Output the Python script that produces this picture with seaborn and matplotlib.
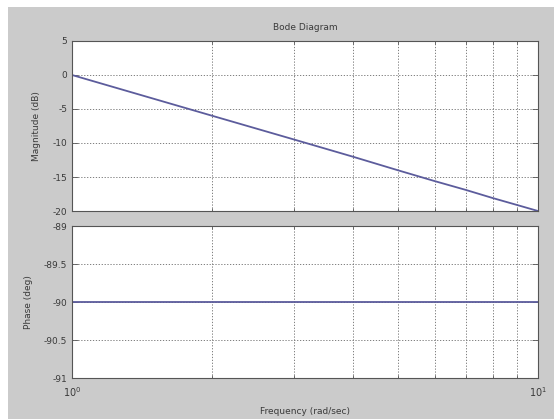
import matplotlib
matplotlib.use("Agg")
import matplotlib.pyplot as plt
import matplotlib.ticker as mticker
import numpy as np
import pandas as pd
import seaborn as sns

# Frequency response of an integrator, sampled over one decade
freq = [1, 2, 3, 4, 5, 6, 7, 8, 9, 10]                      # rad/sec
magnitude = [0, -6.0, -9.5, -12.0, -14.0, -15.6, -16.9, -18.1, -19.1, -20.0]  # dB
phase = [-90, -90, -90, -90, -90, -90, -90, -90, -90, -90]  # deg

mag_ticks = [5, 0, -5, -10, -15, -20]
mag_labels = ["5", "0", "-5", "-10", "-15", "-20"]
phase_ticks = [-89, -89.5, -90, -90.5, -91]
phase_labels = ["-89", "-89.5", "-90", "-90.5", "-91"]

title = "Bode Diagram"
mag_ylabel = "Magnitude (dB)"
phase_ylabel = "Phase (deg)"
xlabel = "Frequency (rad/sec)"

df = pd.DataFrame({"freq": freq, "mag": magnitude, "phase": phase})

sns.set_theme(style="white")
plt.rcParams["font.family"] = ["DejaVu Sans"]

BG = "#cbcbcb"
TXT = "#3a3a3a"
LINE = "#5c5c9c"
GRID = "#6a6a6a"

fig = plt.figure(figsize=(5.54, 4.19), dpi=100, facecolor="white")
# grey figure panel leaves a thin white margin on the left and top
fig.patches.append(plt.Rectangle((8 / 554, 0), 1, 1 - 7 / 419, transform=fig.transFigure,
                                 facecolor=BG, edgecolor="none", zorder=-10))

ax1 = fig.add_axes([72 / 554, 1 - 211 / 419, 466 / 554, 170 / 419])
ax2 = fig.add_axes([72 / 554, 1 - 378 / 419, 466 / 554, 152 / 419])

sns.lineplot(data=df, x="freq", y="mag", ax=ax1, color=LINE, linewidth=1.3)
sns.lineplot(data=df, x="freq", y="phase", ax=ax2, color=LINE, linewidth=1.3)

for ax in (ax1, ax2):
    ax.set_facecolor("white")
    ax.set_xscale("log")
    ax.set_xlim(1, 10)
    ax.xaxis.set_major_locator(mticker.FixedLocator([1, 10]))
    ax.xaxis.set_minor_locator(mticker.FixedLocator([2, 3, 4, 5, 6, 7, 8, 9]))
    ax.xaxis.set_minor_formatter(mticker.NullFormatter())
    ax.grid(True, which="both", axis="x", color=GRID, linestyle=(0, (1.5, 2)), linewidth=0.6)
    ax.grid(True, which="major", axis="y", color=GRID, linestyle=(0, (1.5, 2)), linewidth=0.6)
    for s in ax.spines.values():
        s.set_color("#555555")
        s.set_linewidth(0.8)
    ax.tick_params(which="both", direction="in", top=True, right=True, left=True, bottom=True,
                   colors="#555555", labelcolor=TXT, labelsize=6.5, width=0.6)
    ax.tick_params(which="major", length=4)
    ax.tick_params(which="minor", length=2.5)
    ax.set_xlabel("")
    ax.set_ylabel("")

ax1.set_ylim(-20, 5)
ax1.set_yticks(mag_ticks)
ax1.set_yticklabels(mag_labels)
ax1.tick_params(axis="x", labelbottom=False)
ax1.set_title(title, fontsize=6.5, color=TXT, pad=8)
ax1.set_ylabel(mag_ylabel, fontsize=6.5, color=TXT, labelpad=8)

ax2.set_ylim(-91, -89)
ax2.set_yticks(phase_ticks)
ax2.set_yticklabels(phase_labels)
ax2.xaxis.set_major_formatter(mticker.LogFormatterSciNotation())
ax2.tick_params(axis="x", labelsize=7, pad=5)
ax2.set_ylabel(phase_ylabel, fontsize=6.5, color=TXT, labelpad=8)

fig.text(305 / 554, 1 - 411 / 419, xlabel, fontsize=6.5, color=TXT, ha="center", va="center")

fig.savefig("out.png", dpi=100, facecolor="white")
